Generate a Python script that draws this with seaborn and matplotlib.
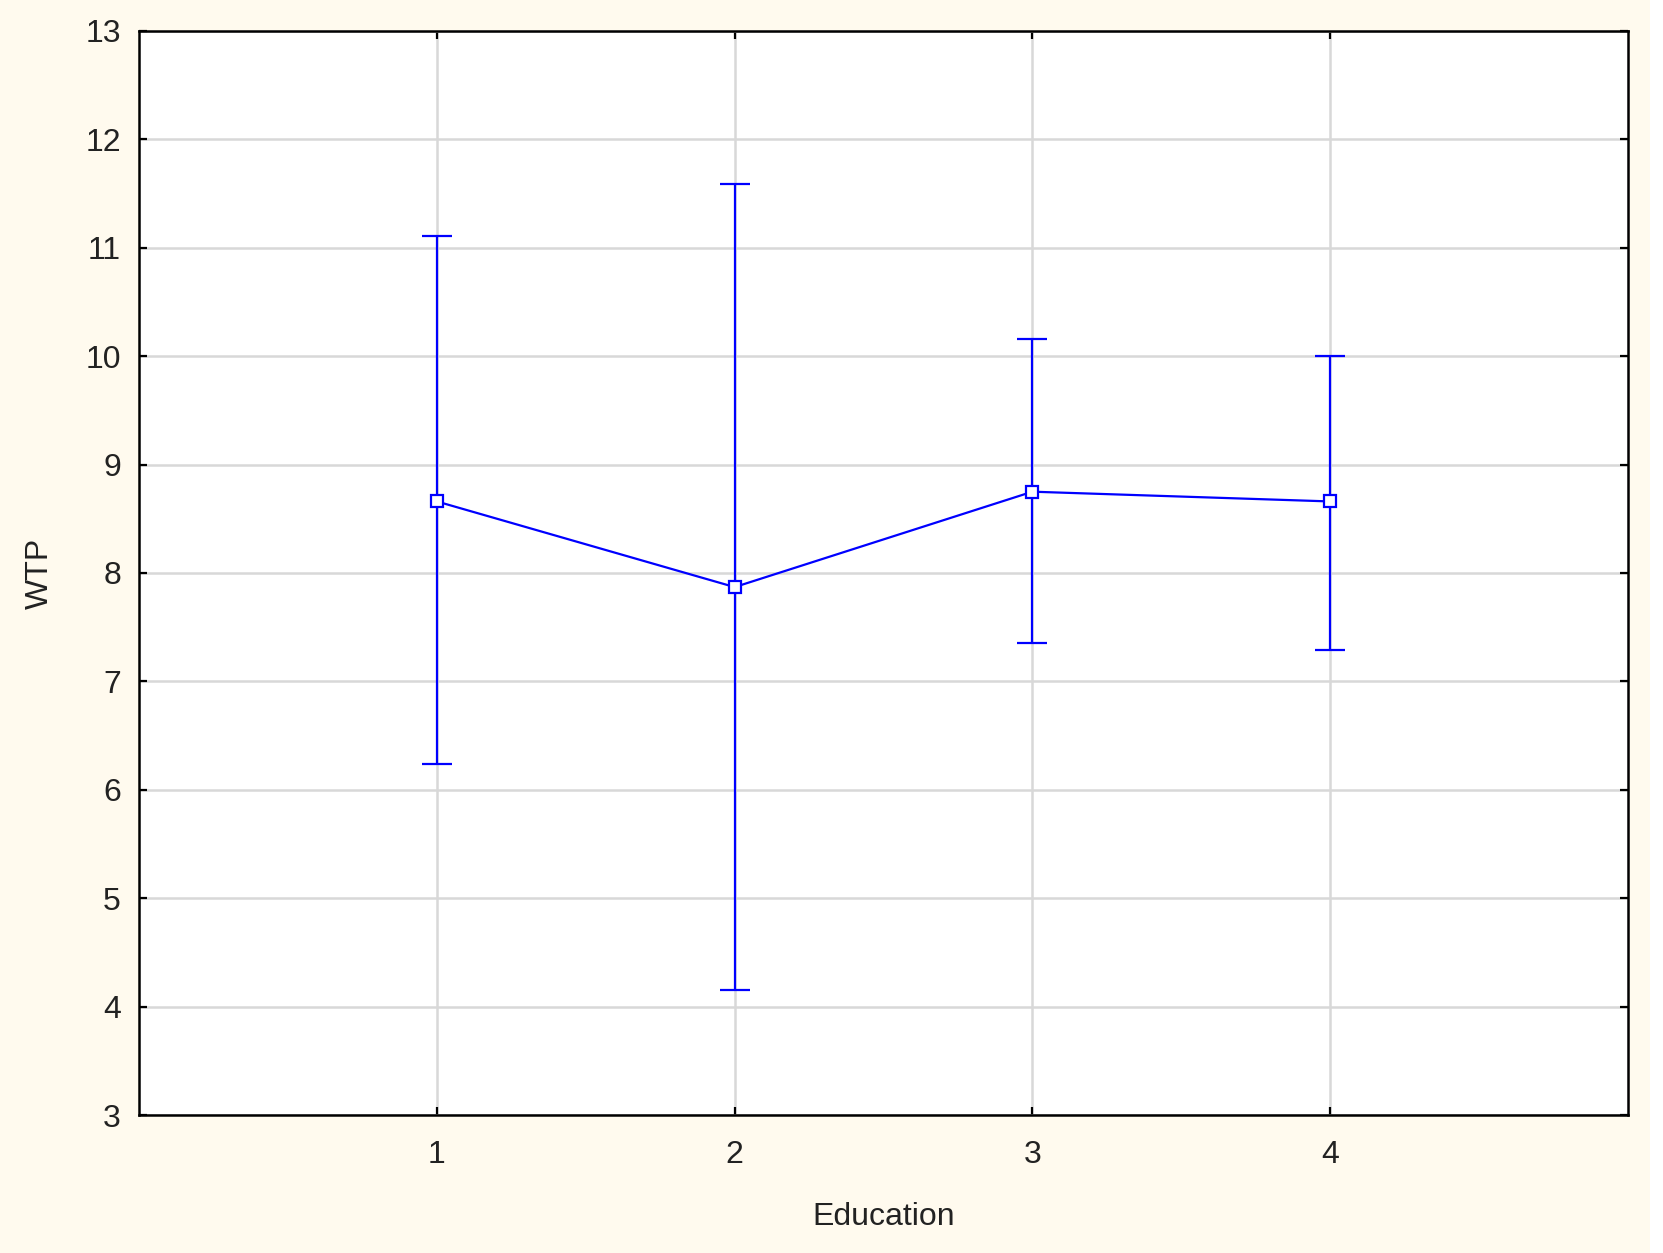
import numpy as np
import pandas as pd
import matplotlib
matplotlib.use('Agg')
import matplotlib.pyplot as plt
from matplotlib.patches import Rectangle
import seaborn as sns

# ── data ─────────────────────────────────────────────────
education = [1, 2, 3, 4]
wtp_mean  = [8.66, 7.87, 8.75, 8.66]
wtp_low   = [6.24, 4.15, 7.35, 7.29]
wtp_high  = [11.11, 11.59, 10.16, 10.00]
y_ticks   = [3, 4, 5, 6, 7, 8, 9, 10, 11, 12, 13]
x_ticks   = [1, 2, 3, 4]

df = pd.DataFrame({'Education': education, 'WTP': wtp_mean,
                   'low': wtp_low, 'high': wtp_high})

sns.set_theme(style='whitegrid')
plt.rcParams['font.family'] = ['Liberation Sans', 'DejaVu Sans']

bg = '#FFFAEE'
fig = plt.figure(figsize=(16.63, 12.53), dpi=100, facecolor=bg)
# thin white strip on the far right, as in the original export
fig.add_artist(Rectangle((0.992, 0), 0.008, 1, transform=fig.transFigure,
                         facecolor='white', edgecolor='none', zorder=0))
ax = fig.add_axes([0.0836, 0.1101, 0.8954, 0.8652])
ax.set_facecolor('white')

blue = '#0000FF'
ax.errorbar(df['Education'], df['WTP'],
            yerr=[df['WTP'] - df['low'], df['high'] - df['WTP']],
            fmt='none', ecolor=blue, elinewidth=1.6, capsize=11, capthick=1.6,
            zorder=3)
sns.lineplot(data=df, x='Education', y='WTP', ax=ax, color=blue,
             linewidth=1.6, marker='s', markersize=8, markerfacecolor='white',
             markeredgecolor=blue, markeredgewidth=1.6, zorder=4)

ax.set_xlim(0, 5)
ax.set_ylim(3, 13)
ax.set_xticks(x_ticks)
ax.set_yticks(y_ticks)
ax.grid(True, color='#D8D8D8', linewidth=1.8)

for s in ax.spines.values():
    s.set_visible(True)
    s.set_color('black')
    s.set_linewidth(1.8)

ax.tick_params(axis='both', direction='in', length=6, width=1.6,
               colors='black', labelsize=23, top=True, right=True,
               bottom=True, left=True, labelcolor='#222222')
ax.tick_params(axis='x', pad=18)
ax.tick_params(axis='y', pad=13)

ax.set_xlabel('Education', fontsize=23, color='#222222', labelpad=23)
ax.set_ylabel('WTP', fontsize=23, color='#222222', labelpad=22)

fig.savefig('out.png', dpi=100, facecolor=bg)
